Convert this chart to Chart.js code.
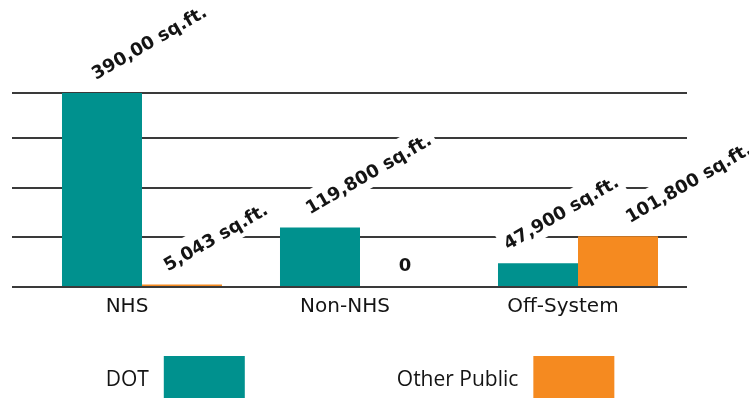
<!DOCTYPE html>
<html lang="en">
<head>
  <meta charset="UTF-8" />
  <title>Square footage by system</title>
  <script src="https://cdn.jsdelivr.net/npm/chart.js"></script>
  <style>
    body { margin: 0; background: #fff; }
  </style>
</head>
<body>
  <canvas id="areaChart" width="749" height="400"></canvas>

  <script>
    const categories = ['NHS', 'Non-NHS', 'Off-System'];
    const dotValues = [390000, 119800, 47900];
    const otherValues = [5043, 0, 101800];
    const dotLabels = ['390,00 sq.ft.', '119,800 sq.ft.', '47,900 sq.ft.'];
    const otherLabels = ['5,043 sq.ft.', '0', '101,800 sq.ft.'];
    const yTicks = [0, 100000, 200000, 300000, 390000];

    const TEAL = '#00918e';
    const ORANGE = '#f58a20';
    const INK = '#141414';

    // value labels: white band first (cuts the grid lines), text after the bars
    function drawValueLabels(chart, opts, background) {
      const ctx = chart.ctx;
      ctx.save();
      ctx.font = 'bold 18px "DejaVu Sans"';
      chart.data.datasets.forEach((ds, i) => {
        chart.getDatasetMeta(i).data.forEach((bar, j) => {
          const text = ds.valueLabels[j];
          if (ds.data[j] === 0) {
            if (!background) {
              ctx.fillStyle = INK;
              ctx.textAlign = 'center';
              ctx.textBaseline = 'middle';
              ctx.fillText(text, bar.x + 5, bar.y - 21);
            }
            return;
          }
          ctx.save();
          ctx.translate(bar.x - 6 + opts.nudge[i][j], bar.y - 13);
          ctx.rotate(-Math.PI / 6);
          const w = ctx.measureText(text).width;
          if (background) {
            ctx.fillStyle = '#fff';
            ctx.fillRect(-4, -22, w + 8, 30);
          } else {
            ctx.fillStyle = INK;
            ctx.textAlign = 'left';
            ctx.textBaseline = 'alphabetic';
            ctx.fillText(text, 0, 0);
          }
          ctx.restore();
        });
      });
      ctx.restore();
    }

    const valueLabels = {
      id: 'valueLabels',
      beforeDatasetsDraw(chart, args, opts) { drawValueLabels(chart, opts, true); },
      afterDatasetsDraw(chart, args, opts) { drawValueLabels(chart, opts, false); }
    };

    // legend: text on the left, big swatch on the right
    const swatchLegend = {
      id: 'swatchLegend',
      afterDraw(chart, args, opts) {
        const ctx = chart.ctx;
        const area = chart.chartArea;
        ctx.save();
        ctx.font = '21px "Open Sans"';
        const items = chart.data.datasets.map(ds => ({
          text: ds.label, color: ds.backgroundColor, w: ctx.measureText(ds.label).width
        }));
        let total = 0;
        items.forEach((it, k) => {
          total += it.w + opts.textGap + opts.boxW + (k > 0 ? opts.itemGap : 0);
        });
        let x = (area.left + area.right) / 2 - total / 2;
        items.forEach(it => {
          ctx.fillStyle = INK;
          ctx.textAlign = 'left';
          ctx.textBaseline = 'middle';
          ctx.fillText(it.text, x, opts.top + opts.boxH / 2 + 3);
          x += it.w + opts.textGap;
          ctx.fillStyle = it.color;
          ctx.fillRect(x, opts.top, opts.boxW, opts.boxH);
          x += opts.boxW + opts.itemGap;
        });
        ctx.restore();
      }
    };

    new Chart(document.getElementById('areaChart'), {
      type: 'bar',
      data: {
        labels: categories,
        datasets: [
          { label: 'DOT', data: dotValues, valueLabels: dotLabels, backgroundColor: TEAL },
          { label: 'Other Public', data: otherValues, valueLabels: otherLabels, backgroundColor: ORANGE }
        ]
      },
      options: {
        responsive: false,
        animation: false,
        layout: { padding: { top: 93, left: 12, right: 62, bottom: 73 } },
        datasets: {
          bar: { categoryPercentage: 0.734, barPercentage: 1.0 }
        },
        scales: {
          x: {
            grid: { display: false, drawTicks: false },
            border: { display: false },
            ticks: {
              color: INK,
              font: { family: '"DejaVu Sans"', size: 20 },
              padding: 8,
              labelOffset: -15
            }
          },
          y: {
            min: 0,
            max: 390000,
            afterBuildTicks: scale => { scale.ticks = yTicks.map(v => ({ value: v })); },
            ticks: { display: false },
            border: { display: false },
            grid: { color: '#3a3a3a', lineWidth: 2, drawTicks: true, tickLength: 21 }
          }
        },
        plugins: {
          legend: { display: false },
          tooltip: { enabled: false },
          valueLabels: { nudge: [[0, -4, -24], [-8, 0, 18]] },
          swatchLegend: { top: 356, boxW: 81, boxH: 42, textGap: 15, itemGap: 152 }
        }
      },
      plugins: [valueLabels, swatchLegend]
    });
  </script>
</body>
</html>
